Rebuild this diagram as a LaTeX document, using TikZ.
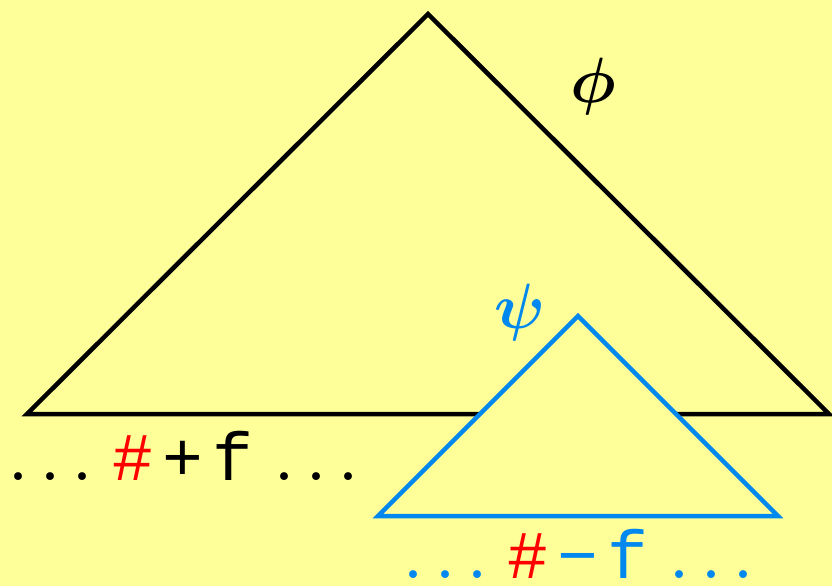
\documentclass[tikz,border=0pt]{standalone}
\usepackage{fix-cm}
\usepackage{amsmath}
\usepackage{fontspec}
\setmonofont{Liberation Mono}
\usetikzlibrary{positioning}
\definecolor{slideyellow}{RGB}{255,255,153}
\definecolor{psiblue}{RGB}{0,136,238}
\newcommand\onedot{\makebox[32pt]{\fontsize{96}{96}\selectfont\rmfamily.}}
\newcommand\dotrun{\onedot\onedot\onedot}
\newcommand\hashterm[1]{\dotrun\hspace{10pt}\makebox[50pt]{\textcolor{red}{\#}}\makebox[50pt]{#1}\makebox[50pt]{f}\hspace{10pt}\dotrun}

\begin{document}
\begin{tikzpicture}[x=1pt,y=-1pt,line join=miter,every node/.style={inner sep=0pt}]
\fill[slideyellow](0,0) rectangle (832,586);
\useasboundingbox (0,0) rectangle (832,586);
% outer tree
\coordinate (top) at (428,14); \coordinate (left) at (27,414); \coordinate (right) at (829,414);
\draw[line width=4.5pt](top)--(left)--(right)--cycle;
% inner tree
\coordinate (stop) at (578,316); \coordinate (sleft) at (378,516); \coordinate (sright) at (778,516);
\draw[psiblue,line width=4.5pt,fill=slideyellow](stop)--(sleft)--(sright)--cycle;
\node (phi) at (593,86) {\fontsize{64}{70}\selectfont$\boldsymbol{\phi}$};
\node[text=psiblue] (psi) at (520,312) {\fontsize{64}{70}\selectfont$\boldsymbol{\psi}$};
\node[anchor=base west,font=\fontsize{68}{72}\selectfont\ttfamily] (plus) at (2,480) {\hashterm{+}};
\node[anchor=base west,text=psiblue,font=\fontsize{68}{72}\selectfont\ttfamily] (minus) at (397,578) {\hashterm{\symbol{"2212}}};
\end{tikzpicture}
\end{document}
